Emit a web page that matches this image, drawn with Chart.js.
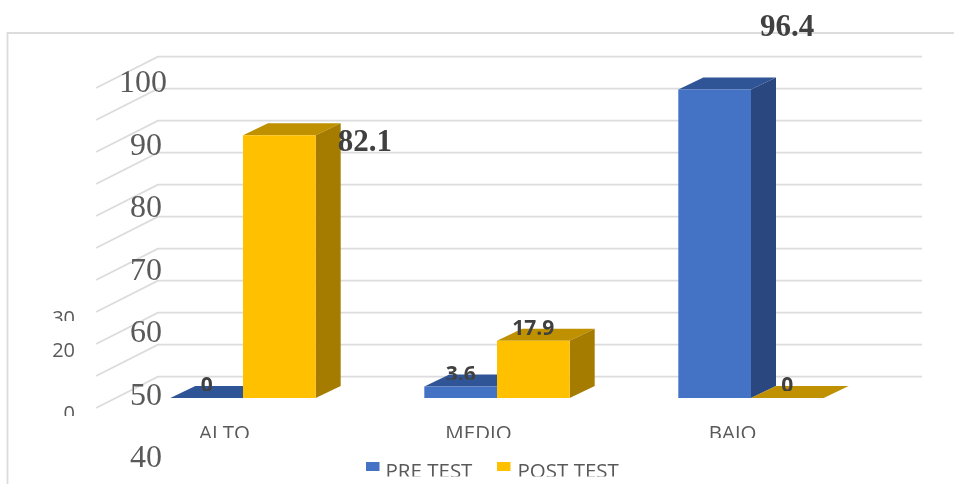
<!DOCTYPE html>
<html>
<head>
<meta charset="utf-8">
<style>html,body{margin:0;padding:0;background:#fff}canvas{display:block}</style>
<script src="https://cdn.jsdelivr.net/npm/chart.js@4"></script>
</head>
<body>
<canvas id="c" width="954" height="484"></canvas>
<script>
const categories = ['ALTO', 'MEDIO', 'BAJO'];
const preTest = [0, 3.6, 96.4];
const postTest = [82.1, 17.9, 0];
const largeTicks = [100, 90, 80, 70, 60, 50, 40];
const smallTicks = [30, 20, 0];

const GRID = '#DCDCDC', TEXT = '#595959', VALUE = '#404040';
const faces = [
  {top: '#2F5597', side: '#2A4780'},
  {top: '#BF9000', side: '#A67C00'}
];
const depth = {dx: 25, dy: -12};
const wall = {front: {x: 96, dy: 10}, back: {x: 158, dy: -21.3}, right: 922};
const SERIF = '"Liberation Serif"', SANS = '"Open Sans"';
const valueStyle = [
  [
    {dx: 0, y: 386, clip: 391, big: false},
    {dx: 0, y: 375, clip: 379.5, big: false},
    {dx: 72.5, y: 28, big: true}
  ],
  [
    {dx: 85.5, y: 143, big: true},
    {dx: 0, y: 329, clip: 335, big: false},
    {dx: 0, y: 386, clip: 391, big: false}
  ]
];
const smallClip = {30: 321, 0: 416};
const legendLayout = [
  {box: 366, text: 385.5}, {box: 497, text: 517.5}
];

function clippedText(ctx, str, x, y, clipBottom) {
  ctx.save();
  if (clipBottom !== undefined) {
    ctx.beginPath();
    ctx.rect(0, 0, 954, clipBottom);
    ctx.clip();
  }
  ctx.fillText(str, x, y);
  ctx.restore();
}

const scene3d = {
  id: 'scene3d',
  beforeDraw(chart) {
    const ctx = chart.ctx, y = chart.scales.y;
    ctx.save();
    ctx.fillStyle = '#fff';
    ctx.fillRect(0, 0, 954, 484);
    ctx.strokeStyle = GRID;
    ctx.lineWidth = 1.8;
    ctx.beginPath();
    ctx.moveTo(7.5, 484); ctx.lineTo(7.5, 33); ctx.lineTo(954, 33);
    ctx.stroke();
    y.ticks.forEach(t => {
      const py = y.getPixelForValue(t.value);
      ctx.beginPath();
      ctx.moveTo(wall.front.x, py + wall.front.dy);
      ctx.lineTo(wall.back.x, py + wall.back.dy);
      ctx.lineTo(wall.right, py + wall.back.dy);
      ctx.stroke();
    });
    ctx.restore();
  },
  beforeDatasetsDraw(chart) {
    const ctx = chart.ctx;
    // the category labels are cut off just below the cap line in the reference
    ctx.save();
    ctx.fillStyle = '#fff';
    ctx.fillRect(150, 438, 700, 20);
    // top and side faces of every bar, behind all the front faces
    chart.data.datasets.forEach((ds, di) => {
      const f = faces[di];
      chart.getDatasetMeta(di).data.forEach(bar => {
        const p = bar.getProps(['x', 'y', 'base', 'width'], true);
        const l = p.x - p.width / 2, r = p.x + p.width / 2;
        ctx.fillStyle = f.top;
        ctx.beginPath();
        ctx.moveTo(l, p.y); ctx.lineTo(r, p.y);
        ctx.lineTo(r + depth.dx, p.y + depth.dy); ctx.lineTo(l + depth.dx, p.y + depth.dy);
        ctx.closePath(); ctx.fill();
        if (p.base - p.y > 0.5) {
          ctx.fillStyle = f.side;
          ctx.beginPath();
          ctx.moveTo(r, p.y); ctx.lineTo(r + depth.dx, p.y + depth.dy);
          ctx.lineTo(r + depth.dx, p.base + depth.dy); ctx.lineTo(r, p.base);
          ctx.closePath(); ctx.fill();
        }
      });
    });
    ctx.restore();
  },
  afterDraw(chart) {
    const ctx = chart.ctx;
    ctx.save();
    // value labels
    ctx.textAlign = 'center';
    ctx.textBaseline = 'middle';
    ctx.fillStyle = VALUE;
    chart.data.datasets.forEach((ds, di) => {
      const meta = chart.getDatasetMeta(di);
      ds.data.forEach((v, i) => {
        const s = valueStyle[di][i];
        ctx.font = s.big ? 'bold 31px ' + SERIF : 'bold 21px ' + SANS;
        clippedText(ctx, String(v), meta.data[i].x + s.dx, s.y, s.clip);
      });
    });
    // two overlapping sets of value-axis labels
    ctx.fillStyle = TEXT;
    ctx.font = '32px ' + SERIF;
    const lg = chart.scales.yLarge;
    largeTicks.forEach(v => {
      ctx.fillText(String(v), v === 100 ? 143 : 146, lg.getPixelForValue(v));
    });
    ctx.textAlign = 'right';
    ctx.font = '20px ' + SANS;
    const sm = chart.scales.ySmall;
    smallTicks.forEach(v => {
      clippedText(ctx, String(v), 75, sm.getPixelForValue(v), smallClip[v]);
    });
    // legend, cut off at the lower edge
    ctx.textAlign = 'left';
    ctx.textBaseline = 'alphabetic';
    ctx.font = '20.5px ' + SANS;
    chart.data.datasets.forEach((ds, di) => {
      const L = legendLayout[di];
      ctx.fillStyle = ds.backgroundColor;
      ctx.fillRect(L.box, 462, 13.5, 9);
      ctx.fillStyle = TEXT;
      clippedText(ctx, ds.label, L.text, 478, 476.5);
    });
    ctx.restore();
  }
};

new Chart(document.getElementById('c'), {
  type: 'bar',
  data: {
    labels: categories,
    datasets: [
      {label: 'PRE TEST', data: preTest, backgroundColor: '#4472C4'},
      {label: 'POST TEST', data: postTest, backgroundColor: '#FFC000'}
    ]
  },
  plugins: [scene3d],
  options: {
    responsive: false,
    animation: false,
    layout: {padding: {left: 116, right: 76, top: 78, bottom: 0}},
    plugins: {legend: {display: false}, tooltip: {enabled: false}},
    datasets: {bar: {categoryPercentage: 0.5724, barPercentage: 1}},
    scales: {
      x: {
        grid: {display: false},
        border: {display: false},
        afterFit(s) { s.height = 86; },
        ticks: {
          color: TEXT,
          font: {family: SANS, size: 20.5},
          labelOffset: -18.5,
          padding: 16,
          maxRotation: 0,
          autoSkip: false
        }
      },
      y: {display: false, min: 0, max: 100, ticks: {stepSize: 10}},
      yLarge: {display: false, type: 'linear', min: 49.76, max: 100.96},
      ySmall: {display: false, type: 'linear', min: 5.21, max: 106.25}
    }
  }
});
</script>
</body>
</html>
